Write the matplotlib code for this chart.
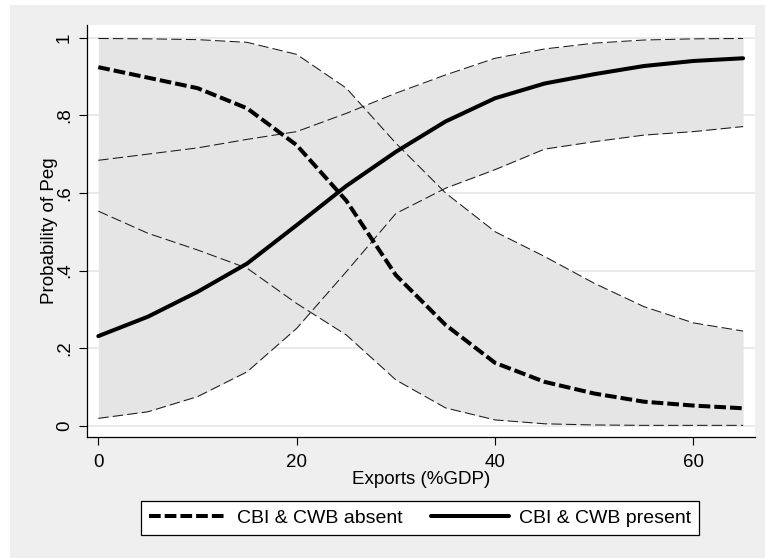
import numpy as np
import matplotlib
matplotlib.use("Agg")
import matplotlib.pyplot as plt
from matplotlib.patches import Rectangle

# exports (%GDP)
exports = [0, 5, 10, 15, 20, 25, 30, 35, 40, 45, 50, 55, 60, 65]

# CBI & CWB absent: predicted probability and CI
absent = [0.924, 0.897, 0.870, 0.818, 0.723, 0.580, 0.388, 0.260, 0.162, 0.113, 0.083, 0.062, 0.052, 0.045]
absent_hi = [0.998, 0.997, 0.995, 0.988, 0.957, 0.870, 0.728, 0.600, 0.500, 0.436, 0.367, 0.307, 0.265, 0.244]
absent_lo = [0.553, 0.496, 0.453, 0.406, 0.315, 0.234, 0.118, 0.046, 0.015, 0.005, 0.002, 0.001, 0.001, 0.001]

# CBI & CWB present
present = [0.231, 0.281, 0.345, 0.418, 0.517, 0.618, 0.706, 0.784, 0.844, 0.882, 0.906, 0.927, 0.940, 0.947]
present_hi = [0.684, 0.700, 0.716, 0.738, 0.758, 0.805, 0.857, 0.904, 0.947, 0.971, 0.986, 0.994, 0.997, 0.998]
present_lo = [0.019, 0.036, 0.075, 0.139, 0.251, 0.397, 0.547, 0.612, 0.660, 0.713, 0.732, 0.749, 0.758, 0.771]

yticks = [0, 0.2, 0.4, 0.6, 0.8, 1.0]
ytick_labels = ["0", ".2", ".4", ".6", ".8", "1"]
xticks = [0, 20, 40, 60]

plt.rcParams.update({"font.family": ["Liberation Sans", "DejaVu Sans"], "font.size": 13.5})

fig = plt.figure(figsize=(7.65, 5.58), dpi=100, facecolor="white")
fig.patches.append(Rectangle((10/765, 0), 1, 553/558, transform=fig.transFigure,
                             facecolor="#efefef", edgecolor="none", zorder=-10))
ax = fig.add_axes([87/765, 1-437/558, (755-87)/765, (437-25)/558])
ax.set_facecolor("white")

band = "#e5e5e5"
ax.fill_between(exports, absent_lo, absent_hi, color=band, lw=0, zorder=1)
ax.fill_between(exports, present_lo, present_hi, color=band, lw=0, zorder=1)

thin = dict(color="#1a1a1a", lw=0.75, dashes=(10, 4), zorder=2)
for s in (absent_hi, absent_lo, present_hi, present_lo):
    ax.plot(exports, s, **thin)

ax.plot(exports, absent, color="black", lw=2.9, dashes=(2.9, 1.0), zorder=3,
        solid_capstyle="butt", dash_capstyle="butt", label="CBI & CWB absent")
ax.plot(exports, present, color="black", lw=2.9, zorder=3,
        solid_capstyle="round", label="CBI & CWB present")

ax.set_xlim(-1.14, 66.2)
ax.set_ylim(-0.029, 1.0327)
ax.set_xticks(xticks)
ax.set_yticks(yticks)
ax.set_yticklabels(ytick_labels, rotation=90, va="center")
ax.yaxis.grid(True, color="#e6e6e6", lw=1.2, zorder=0)
ax.set_axisbelow(True)
for side in ("top", "right"):
    ax.spines[side].set_visible(False)
for side in ("left", "bottom"):
    ax.spines[side].set_linewidth(0.9)
ax.tick_params(direction="out", length=6, width=0.8, labelsize=13.5)
ax.tick_params(axis="x", pad=6)
ax.tick_params(axis="y", pad=4)
ax.set_xlabel("Exports (%GDP)", labelpad=0)
ax.set_ylabel("Probability of Peg", labelpad=-1)

leg = fig.legend(loc="center", bbox_to_anchor=(420/765, 1-518/558), ncol=2,
                 handlelength=4.0, handletextpad=0.5, columnspacing=1.5,
                 borderpad=0.42, fancybox=False, framealpha=1, edgecolor="black",
                 fontsize=14)
leg.get_frame().set_linewidth(0.9)

fig.savefig("out.png", dpi=100, facecolor=fig.get_facecolor())
